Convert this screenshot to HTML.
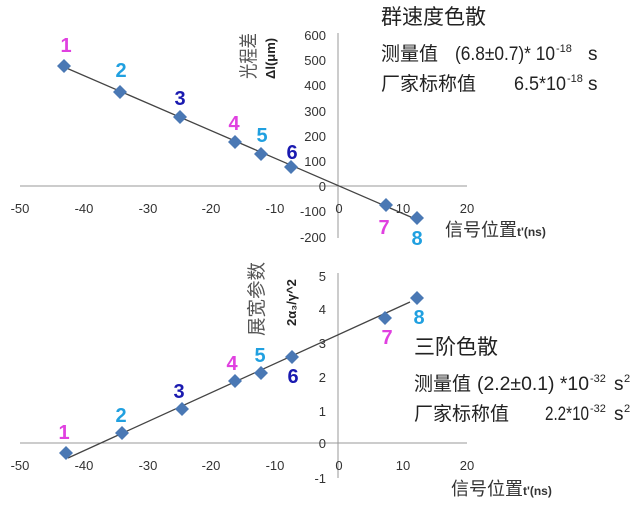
<!DOCTYPE html>
<html><head><meta charset="utf-8"><style>
html,body{margin:0;padding:0;background:#fff}
svg text{font-family:"Liberation Sans","Noto Sans CJK SC",sans-serif}
.cjk{font-family:"Liberation Sans","Noto Sans CJK SC",sans-serif}
.t{font-size:13px;fill:#333}
.n{font-size:20px;font-weight:bold}
</style></head><body>
<svg width="639" height="512" viewBox="0 0 639 512" xmlns="http://www.w3.org/2000/svg">
<defs><path id="d" d="M0,-7 L7,0 L0,7 L-7,0Z" fill="#4a78b4"/></defs>
<!-- top chart -->
<line x1="20" y1="186" x2="467" y2="186" stroke="#999" stroke-width="1"/>
<line x1="338" y1="33" x2="338" y2="238" stroke="#999" stroke-width="1"/>
<g class="t" text-anchor="middle">
<text x="20" y="213">-50</text><text x="84" y="213">-40</text><text x="148" y="213">-30</text><text x="211" y="213">-20</text><text x="275" y="213">-10</text><text x="339" y="213">0</text><text x="403" y="213">10</text><text x="467" y="213">20</text>
</g>
<g class="t" text-anchor="end">
<text x="326" y="40">600</text><text x="326" y="65">500</text><text x="326" y="90">400</text><text x="326" y="116">300</text><text x="326" y="141">200</text><text x="326" y="166">100</text><text x="326" y="191">0</text><text x="326" y="216">-100</text><text x="326" y="242">-200</text>
</g>
<line x1="64" y1="67" x2="420" y2="221" stroke="#444" stroke-width="1.3"/>
<use href="#d" x="64" y="66"/><use href="#d" x="120" y="92"/><use href="#d" x="180" y="117"/><use href="#d" x="235" y="142"/><use href="#d" x="261" y="154"/><use href="#d" x="291" y="167"/><use href="#d" x="386" y="205"/><use href="#d" x="417" y="218"/>
<g class="n" text-anchor="middle">
<text x="66" y="52" fill="#e040e0">1</text><text x="121" y="77" fill="#20a0e0">2</text><text x="180" y="105" fill="#1a1ab0">3</text><text x="234" y="130" fill="#e040e0">4</text><text x="262" y="142" fill="#20a0e0">5</text><text x="292" y="159" fill="#1a1ab0">6</text><text x="384" y="234" fill="#e040e0">7</text><text x="417" y="245" fill="#20a0e0">8</text>
</g>
<text class="cjk" x="0" y="0" transform="translate(255,79) rotate(-90)" font-size="19" fill="#555" textLength="46" lengthAdjust="spacingAndGlyphs">光程差</text>
<text x="0" y="0" transform="translate(275,79) rotate(-90)" font-size="13" font-weight="bold" fill="#222">Δl(μm)</text>
<text class="cjk" x="445" y="236" font-size="18" fill="#333">信号位置<tspan font-size="12" font-weight="bold">t'(ns)</tspan></text>
<g fill="#222">
<text class="cjk" x="381" y="24" font-size="21">群速度色散</text>
<text class="cjk" x="381" y="60" font-size="19">测量值</text>
<text x="455" y="60" font-size="19" textLength="100" lengthAdjust="spacingAndGlyphs">(6.8±0.7)* 10</text>
<text x="556" y="52" font-size="11">-18</text>
<text x="588" y="60" font-size="19">s</text>
<text class="cjk" x="381" y="90" font-size="19">厂家标称值</text>
<text x="514" y="90" font-size="19" textLength="52" lengthAdjust="spacingAndGlyphs">6.5*10</text>
<text x="567" y="82" font-size="11">-18</text>
<text x="588" y="90" font-size="19">s</text>
</g>
<!-- bottom chart -->
<line x1="20" y1="443" x2="467" y2="443" stroke="#999" stroke-width="1"/>
<line x1="338" y1="273" x2="338" y2="478" stroke="#999" stroke-width="1"/>
<g class="t" text-anchor="middle">
<text x="20" y="470">-50</text><text x="84" y="470">-40</text><text x="148" y="470">-30</text><text x="211" y="470">-20</text><text x="275" y="470">-10</text><text x="339" y="470">0</text><text x="403" y="470">10</text><text x="467" y="470">20</text>
</g>
<g class="t" text-anchor="end">
<text x="326" y="281">5</text><text x="326" y="314">4</text><text x="326" y="348">3</text><text x="326" y="382">2</text><text x="326" y="416">1</text><text x="326" y="448">0</text><text x="326" y="483">-1</text>
</g>
<line x1="68" y1="458" x2="410" y2="302" stroke="#444" stroke-width="1.3"/>
<use href="#d" x="66" y="453"/><use href="#d" x="122" y="433"/><use href="#d" x="182" y="409"/><use href="#d" x="235" y="381"/><use href="#d" x="261" y="373"/><use href="#d" x="292" y="357"/><use href="#d" x="385" y="318"/><use href="#d" x="417" y="298"/>
<g class="n" text-anchor="middle">
<text x="64" y="439" fill="#e040e0">1</text><text x="121" y="422" fill="#20a0e0">2</text><text x="179" y="398" fill="#1a1ab0">3</text><text x="232" y="370" fill="#e040e0">4</text><text x="260" y="362" fill="#20a0e0">5</text><text x="293" y="383" fill="#1a1ab0">6</text><text x="387" y="344" fill="#e040e0">7</text><text x="419" y="324" fill="#20a0e0">8</text>
</g>
<text class="cjk" x="0" y="0" transform="translate(263,336) rotate(-90)" font-size="19" fill="#555" textLength="74" lengthAdjust="spacingAndGlyphs">展宽参数</text>
<text x="0" y="0" transform="translate(296,326) rotate(-90)" font-size="13" font-weight="bold" fill="#222">2α₃/γ^2</text>
<text class="cjk" x="451" y="495" font-size="18" fill="#333">信号位置<tspan font-size="12" font-weight="bold">t'(ns)</tspan></text>
<g fill="#222">
<text class="cjk" x="414" y="354" font-size="21">三阶色散</text>
<text class="cjk" x="414" y="390" font-size="19">测量值</text>
<text x="477" y="390" font-size="19" textLength="112" lengthAdjust="spacingAndGlyphs">(2.2±0.1) *10</text>
<text x="590" y="382" font-size="11">-32</text>
<text x="614" y="390" font-size="19">s</text>
<text x="624" y="382" font-size="11">2</text>
<text class="cjk" x="414" y="420" font-size="19">厂家标称值</text>
<text x="545" y="420" font-size="19" textLength="44" lengthAdjust="spacingAndGlyphs">2.2*10</text>
<text x="590" y="412" font-size="11">-32</text>
<text x="614" y="420" font-size="19">s</text>
<text x="624" y="412" font-size="11">2</text>
</g>
</svg>
</body></html>
